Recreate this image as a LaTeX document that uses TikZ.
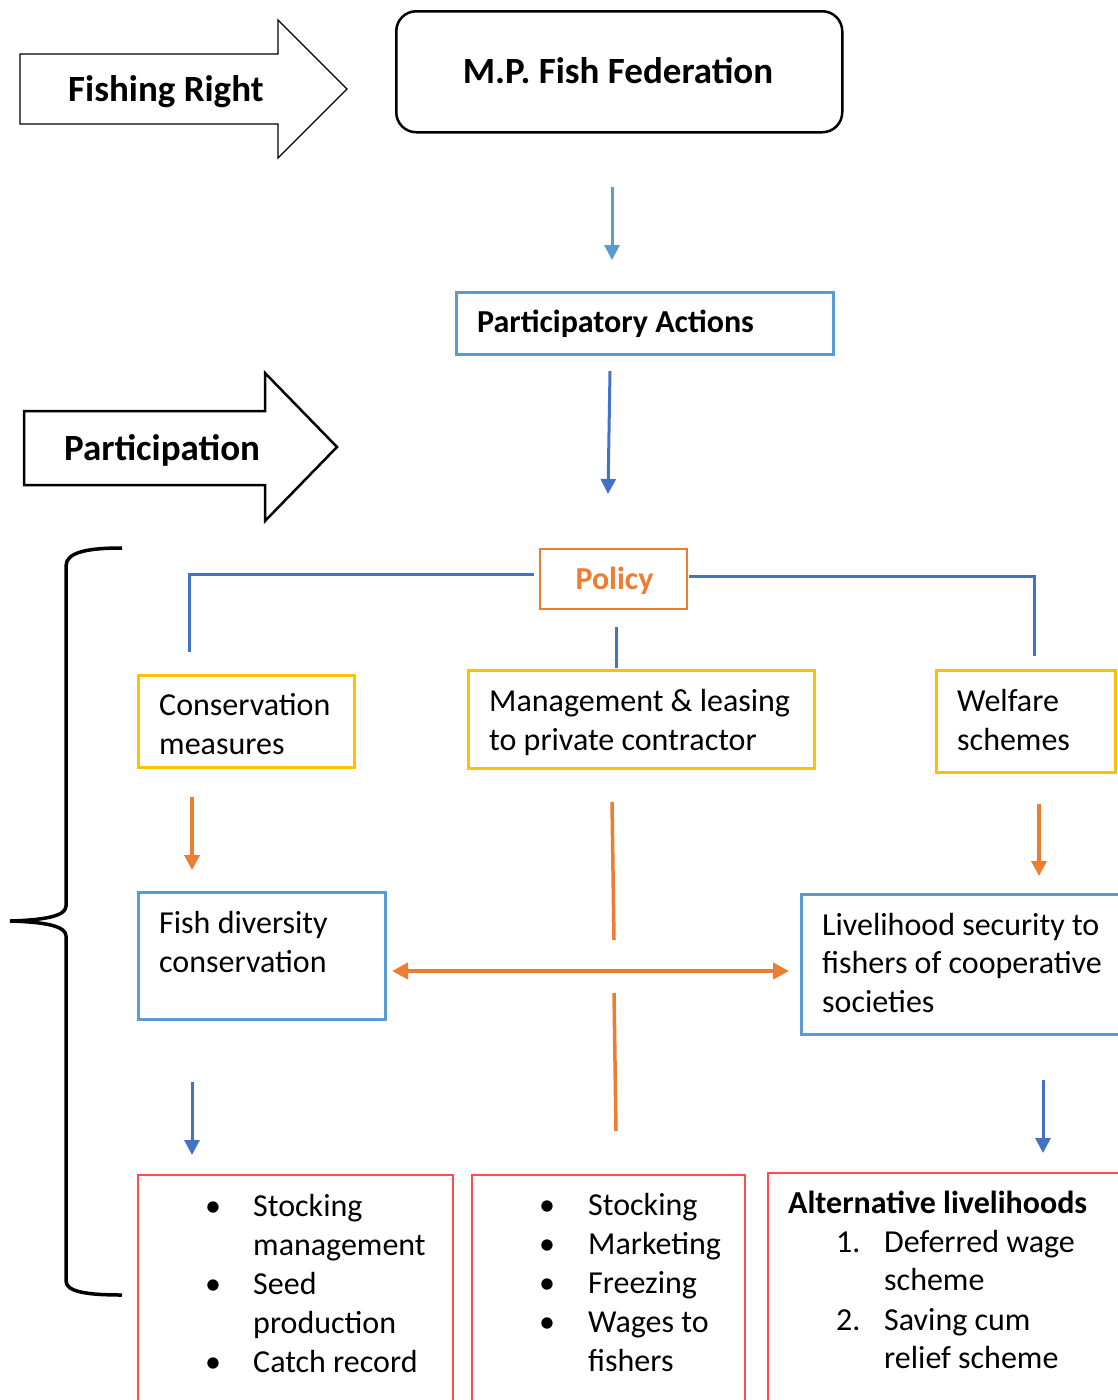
\documentclass[tikz,border=0pt]{standalone}
\usepackage{fontspec}
\setmainfont{Carlito}
\usetikzlibrary{arrows.meta}
\definecolor{lblue}{HTML}{5B9BD5}
\definecolor{dblue}{HTML}{4472C4}
\definecolor{orng}{HTML}{ED7D31}
\definecolor{gold}{HTML}{FFC000}
\definecolor{rred}{HTML}{FF4D4D}
\begin{document}
\begin{tikzpicture}[x=1pt,y=-1pt,
  box/.style={draw, line width=2.5pt, anchor=north west, inner sep=0pt},
  txt/.style={anchor=base west, inner sep=0pt, font=\fontsize{32}{38}\selectfont},
  btxt/.style={anchor=base west, inner sep=0pt, font=\fontsize{32}{38}\selectfont\bfseries},
  htxt/.style={anchor=base west, inner sep=0pt, font=\fontsize{37}{44}\selectfont\bfseries},
  arr/.style={line width=3pt, -{Triangle[length=15pt,width=15pt]}},
  darr/.style={line width=4pt, {Triangle[length=16pt,width=16pt]}-{Triangle[length=16pt,width=16pt]}},
  ln/.style={line width=3pt},
  oln/.style={line width=3.5pt, orng},
]
\useasboundingbox (0,0) rectangle (1118,1400);
\fill[white] (0,0) rectangle (1118,1400);

% block arrows
\draw[line width=1.3pt, line join=miter] (20,54) -- (278,54) -- (278,20) -- (347,89) -- (278,158) -- (278,124) -- (20,124) -- cycle;
\node[htxt] (fr) at (68,101) {Fishing Right};
\draw[line width=2.5pt, line join=miter] (24,411) -- (265,411) -- (265,373) -- (337,447) -- (265,521) -- (265,485) -- (24,485) -- cycle;
\node[htxt] (part) at (64,460) {Participation};

% top boxes
\node[box, rounded corners=20pt, minimum width=446pt, minimum height=121pt] (mp) at (395,10) {};
\node[htxt, anchor=base] (mpt) at (618,83) {M.P. Fish Federation};
\node[box, draw=lblue, minimum width=377pt, minimum height=62pt] (pa) at (455,291) {};
\node[btxt] (pat) at (477,332) {Participatory Actions};
\coordinate (a1s) at (612,187); \coordinate (a1e) at (612,260);
\draw[arr, lblue] (a1s) -- (a1e);
\coordinate (a2s) at (610,371); \coordinate (a2e) at (608,494);
\draw[arr, dblue] (a2s) -- (a2e);

% policy
\node[box, draw=orng, line width=2pt, minimum width=147pt, minimum height=60pt] (pol) at (539,548) {};
\node[btxt, anchor=base, text=orng] (polt) at (614.5,589) {Policy};
\coordinate (pl) at (534,574); \coordinate (plc) at (189,574); \coordinate (ple) at (189,652);
\coordinate (pr) at (689,576); \coordinate (prc) at (1034,576); \coordinate (pre) at (1034,656);
\coordinate (pcs) at (616,627); \coordinate (pce) at (616,668);
\draw[ln, dblue] (pl) -- (plc) -- (ple);
\draw[ln, dblue] (pr) -- (prc) -- (pre);
\draw[ln, dblue] (pcs) -- (pce);

% second row
\node[box, draw=gold, minimum width=216pt, minimum height=92pt] (cons) at (137,674) {};
\node[txt] (cons1) at (159,715) {Conservation};
\node[txt] (cons2) at (159,754) {measures};
\node[box, draw=gold, minimum width=346pt, minimum height=98pt] (mgmt) at (467,669) {};
\node[txt] (mgmt1) at (489,711) {Management \& leasing};
\node[txt] (mgmt2) at (489,750) {to private contractor};
\node[box, draw=gold, minimum width=179pt, minimum height=102pt] (welf) at (935,669) {};
\node[txt] (welf1) at (957,711) {Welfare};
\node[txt] (welf2) at (957,750) {schemes};

\coordinate (o1s) at (192,797); \coordinate (o1e) at (192,870);
\draw[arr, orng, line width=3.5pt] (o1s) -- (o1e);
\coordinate (o2s) at (1039,804); \coordinate (o2e) at (1039,876);
\draw[arr, orng, line width=3.5pt] (o2s) -- (o2e);

% third row
\node[box, draw=lblue, minimum width=247pt, minimum height=127pt] (fish) at (137,891) {};
\node[txt] (fish1) at (159,933) {Fish diversity};
\node[txt] (fish2) at (159,972) {conservation};
\node[box, draw=lblue, minimum width=340pt, minimum height=140pt] (live) at (800,893) {};
\node[txt] (live1) at (822,935) {Livelihood security to};
\node[txt] (live2) at (822,973) {fishers of cooperative};
\node[txt] (live3) at (822,1012) {societies};

\coordinate (m1s) at (612,802); \coordinate (m1e) at (614,940);
\coordinate (m2s) at (614,993); \coordinate (m2e) at (616,1131);
\draw[oln] (m1s) -- (m1e);
\draw[oln] (m2s) -- (m2e);
\coordinate (hl) at (392,971); \coordinate (hr) at (789,971);
\draw[darr, orng] (hl) -- (hr);

\coordinate (b1s) at (192,1082); \coordinate (b1e) at (192,1155);
\draw[arr, dblue] (b1s) -- (b1e);
\coordinate (b2s) at (1043,1080); \coordinate (b2e) at (1043,1153);
\draw[arr, dblue] (b2s) -- (b2e);

% bottom boxes
\node[box, draw=rred, line width=2pt, minimum width=315pt, minimum height=240pt] (r1) at (137,1174) {};
\node[txt, anchor=base] (r1b1) at (213,1216) {•};
\node[txt] (r1t1) at (253,1216) {Stocking};
\node[txt] (r1t2) at (253,1255) {management};
\node[txt, anchor=base] (r1b2) at (213,1294) {•};
\node[txt] (r1t3) at (253,1294) {Seed};
\node[txt] (r1t4) at (253,1333) {production};
\node[txt, anchor=base] (r1b3) at (213,1372) {•};
\node[txt] (r1t5) at (253,1372) {Catch record};

\node[box, draw=rred, line width=2pt, minimum width=273pt, minimum height=240pt] (r2) at (471,1174) {};
\node[txt, anchor=base] (r2b1) at (547,1215) {•};
\node[txt] (r2t1) at (588,1215) {Stocking};
\node[txt, anchor=base] (r2b2) at (547,1254) {•};
\node[txt] (r2t2) at (588,1254) {Marketing};
\node[txt, anchor=base] (r2b3) at (547,1293) {•};
\node[txt] (r2t3) at (588,1293) {Freezing};
\node[txt, anchor=base] (r2b4) at (547,1332) {•};
\node[txt] (r2t4) at (588,1332) {Wages to};
\node[txt] (r2t5) at (588,1371) {fishers};

\node[box, draw=rred, line width=2pt, minimum width=360pt, minimum height=240pt] (r3) at (767,1172) {};
\node[btxt] (r3h) at (788,1213) {Alternative livelihoods};
\node[txt] (r3n1) at (836,1252) {1.};
\node[txt] (r3t1) at (884,1252) {Deferred wage};
\node[txt] (r3t2) at (884,1290) {scheme};
\node[txt] (r3n2) at (836,1330) {2.};
\node[txt] (r3t3) at (884,1330) {Saving cum};
\node[txt] (r3t4) at (884,1368) {relief scheme};

% brace
\draw[line width=3.5pt] (122,548) .. controls (88,548) and (66,552) .. (66,566) -- (66,906)
  .. controls (66,916) and (45,920) .. (10,921)
  .. controls (45,922) and (66,926) .. (66,936) -- (66,1281)
  .. controls (66,1292) and (88,1295) .. (122,1295);
\end{tikzpicture}
\end{document}
